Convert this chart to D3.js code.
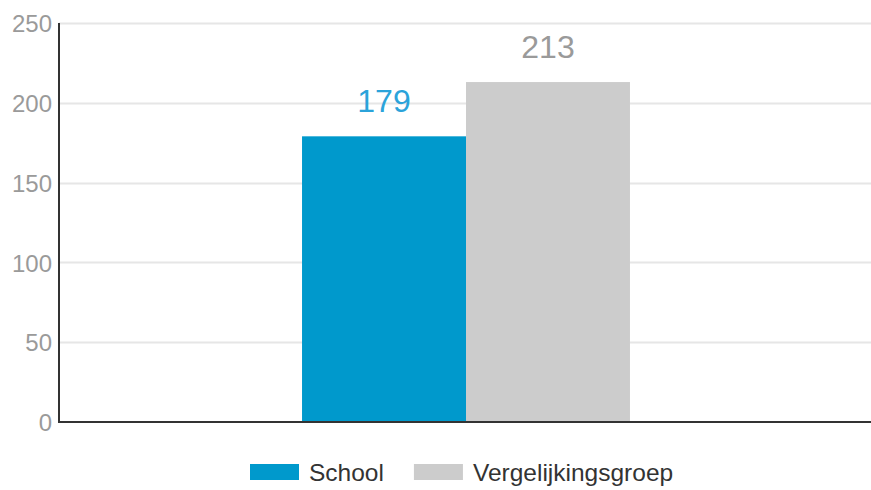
<!DOCTYPE html>
<html>
<head>
  <meta charset="utf-8">
  <script src="https://d3js.org/d3.v7.min.js"></script>
  <style>
    body { margin: 0; background: #fff; }
    svg { display: block; font-family: "Liberation Sans", Arial, sans-serif; }
  </style>
</head>
<body>
  <script>
    // chart data
    var categories = ["Totaal"];
    var series = ["School", "Vergelijkingsgroep"];
    var values = [179, 213];
    var colors = ["#0099cc", "#cccccc"];
    var labelColors = ["#2ba3da", "#9a9a9a"];
    var yTicks = [0, 50, 100, 150, 200, 250];

    var width = 871, height = 490;
    var margin = {top: 23, right: 0, bottom: 68, left: 59};

    var svg = d3.select("body").append("svg")
        .attr("width", width)
        .attr("height", height);

    var y = d3.scaleLinear()
        .domain([0, 250])
        .range([height - margin.bottom, margin.top]);

    var x0 = d3.scaleBand()
        .domain(categories)
        .range([margin.left + 1, width - margin.right + 1])
        .paddingInner(0)
        .paddingOuter(0.738);

    var x1 = d3.scaleBand()
        .domain(series)
        .range([0, x0.bandwidth()]);

    // gridlines
    svg.append("g")
        .selectAll("line")
        .data(yTicks.filter(function (d) { return d > 0; }))
        .enter().append("line")
        .attr("x1", margin.left)
        .attr("x2", width)
        .attr("y1", function (d) { return Math.round(y(d)) + 0.5; })
        .attr("y2", function (d) { return Math.round(y(d)) + 0.5; })
        .style("stroke", "#e6e6e6")
        .style("stroke-width", 2);

    // y axis labels
    var yAxis = d3.axisLeft(y).tickValues(yTicks).tickSize(0).tickPadding(7);
    var gy = svg.append("g")
        .attr("transform", "translate(" + margin.left + ",0)")
        .call(yAxis);
    gy.select(".domain").remove();
    gy.selectAll("text")
        .style("font-family", "\"Liberation Sans\", Arial, sans-serif")
        .style("font-size", "24px")
        .style("fill", "#9a9a9a")
        .attr("dy", "0.36em");

    // bars
    var group = svg.selectAll(".grp")
        .data(categories)
        .enter().append("g")
        .attr("transform", function (d) { return "translate(" + x0(d) + ",0)"; });

    group.selectAll("rect")
        .data(series.map(function (s, i) { return {name: s, value: values[i], i: i}; }))
        .enter().append("rect")
        .attr("x", function (d) { return x1(d.name); })
        .attr("width", x1.bandwidth())
        .attr("y", function (d) { return y(d.value); })
        .attr("height", function (d) { return y(0) - y(d.value); })
        .style("fill", function (d) { return colors[d.i]; });

    group.selectAll(".val")
        .data(series.map(function (s, i) { return {name: s, value: values[i], i: i}; }))
        .enter().append("text")
        .attr("x", function (d) { return x1(d.name) + x1.bandwidth() / 2; })
        .attr("y", function (d) { return y(d.value) - 24; })
        .attr("text-anchor", "middle")
        .style("font-size", "32px")
        .style("fill", function (d) { return labelColors[d.i]; })
        .text(function (d) { return d.value; });

    // axis lines
    svg.append("line")
        .attr("x1", margin.left).attr("x2", margin.left)
        .attr("y1", y(250)).attr("y2", y(0) + 1)
        .style("stroke", "#333")
        .style("stroke-width", 2);
    svg.append("line")
        .attr("x1", margin.left - 1).attr("x2", width)
        .attr("y1", y(0)).attr("y2", y(0))
        .style("stroke", "#333")
        .style("stroke-width", 2);

    // legend
    var legend = svg.append("g").attr("transform", "translate(250,464)");
    var lx = 0;
    series.forEach(function (s, i) {
      var item = legend.append("g").attr("transform", "translate(" + lx + ",0)");
      item.append("rect")
          .attr("width", 49).attr("height", 16)
          .style("fill", colors[i]);
      var t = item.append("text")
          .attr("x", 59).attr("y", 8)
          .attr("dy", "0.36em")
          .style("font-size", "24.5px")
          .style("fill", "#333")
          .text(s);
      lx += 59 + t.node().getComputedTextLength() + 30;
    });
  </script>
</body>
</html>
